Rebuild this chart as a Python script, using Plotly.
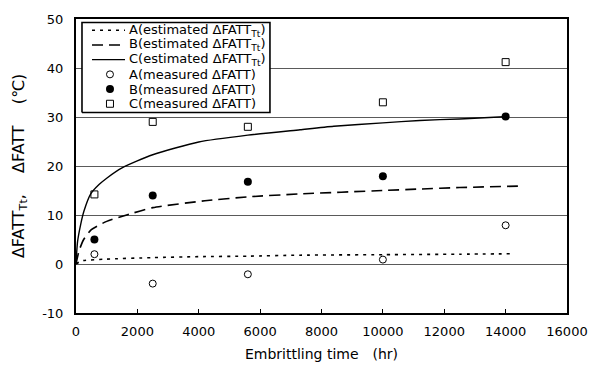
import plotly.graph_objects as go

# Measured data (embrittling time, hr)
meas_t = [600, 2500, 5600, 10000, 14000]
meas_A = [2.0, -4.0, -2.1, 0.9, 7.9]
meas_B = [5.0, 14.0, 16.8, 17.9, 30.1]
meas_C = [14.2, 29.0, 28.0, 33.0, 41.2]

# Estimated curves
est_A_t = [0, 100, 250, 1000, 2500, 4000, 5600, 7300, 10000, 12500, 14300]
est_A = [0, 0.4, 0.7, 1.0, 1.3, 1.5, 1.6, 1.8, 1.9, 2.0, 2.1]
est_B_t = [0, 100, 250, 500, 1000, 1650, 2500, 4200, 5600, 7300, 10000, 11200, 12500, 14400]
est_B = [0, 2.7, 5.0, 7.0, 8.7, 10.0, 11.5, 12.9, 13.7, 14.3, 15.0, 15.3, 15.6, 15.9]
est_C_t = [0, 50, 150, 260, 480, 750, 1000, 1500, 2500, 4000, 5600, 7300, 8400, 10000, 11200, 12500, 14100]
est_C = [0, 4.5, 8.0, 10.8, 14.3, 16.2, 17.5, 19.6, 22.3, 24.9, 26.3, 27.4, 28.1, 28.8, 29.3, 29.6, 30.1]

x_ticks = [0, 2000, 4000, 6000, 8000, 10000, 12000, 14000, 16000]
y_ticks = [-10, 0, 10, 20, 30, 40, 50]

legend_labels = ["A(estimated ΔFATT<sub>Tt</sub>)", "B(estimated ΔFATT<sub>Tt</sub>)",
                 "C(estimated ΔFATT<sub>Tt</sub>)", "A(measured ΔFATT)",
                 "B(measured ΔFATT)", "C(measured ΔFATT)"]

FONT = "DejaVu Sans, Liberation Sans, sans-serif"

# styles
line_styles = [dict(color="black", width=1.6, dash="3px,5px"),
               dict(color="black", width=1.6, dash="11px,6px"),
               dict(color="black", width=1.4)]
marker_styles = [dict(symbol="circle-open", size=7, color="black", line=dict(width=1, color="black")),
                 dict(symbol="circle", size=8, color="black"),
                 dict(symbol="square-open", size=7, color="black", line=dict(width=1, color="black"))]

# legend layout (fractions of the plotting area)
LEG_BOX_X = [0.0122, 0.395, 0.395, 0.0122, 0.0122]
LEG_BOX_Y = [0.682, 0.682, 0.988, 0.988, 0.682]
LEG_ROW_Y = [0.9617, 0.9117, 0.8617, 0.8117, 0.7617, 0.7117]
LEG_LINE_X = [0.0326, 0.0998]
LEG_MARK_X = 0.0692
LEG_TEXT_X = 0.1039

fig = go.Figure()
for t, v, ls in zip([est_A_t, est_B_t, est_C_t], [est_A, est_B, est_C], line_styles):
    fig.add_trace(go.Scatter(x=t, y=v, mode="lines", showlegend=False,
                             line=dict(**ls, shape="spline", smoothing=0.6)))
for v, ms in zip([meas_A, meas_B, meas_C], marker_styles):
    fig.add_trace(go.Scatter(x=meas_t, y=v, mode="markers", showlegend=False, marker=ms))

# legend box + samples on an auxiliary overlay axis spanning the plot area in [0,1]
fig.add_trace(go.Scatter(x=LEG_BOX_X, y=LEG_BOX_Y, mode="lines", fill="toself",
                         fillcolor="white", line=dict(color="black", width=1.6),
                         xaxis="x2", yaxis="y2", showlegend=False, hoverinfo="skip"))
for i, ls in enumerate(line_styles):
    fig.add_trace(go.Scatter(x=LEG_LINE_X, y=[LEG_ROW_Y[i]] * 2, mode="lines", line=ls,
                             xaxis="x2", yaxis="y2", showlegend=False, hoverinfo="skip"))
for i, ms in enumerate(marker_styles):
    fig.add_trace(go.Scatter(x=[LEG_MARK_X], y=[LEG_ROW_Y[3 + i]], mode="markers", marker=ms,
                             xaxis="x2", yaxis="y2", showlegend=False, hoverinfo="skip"))

annotations = [dict(x=LEG_TEXT_X, y=LEG_ROW_Y[i], xref="paper", yref="paper", text=lab,
                    showarrow=False, xanchor="left", yanchor="middle",
                    font=dict(size=13, family=FONT, color="black"))
               for i, lab in enumerate(legend_labels)]

fig.update_layout(
    width=600, height=374,
    margin=dict(l=76, r=33, t=13, b=61),
    paper_bgcolor="white", plot_bgcolor="white",
    font=dict(family=FONT, size=13, color="black"),
    showlegend=False,
    annotations=annotations,
    xaxis=dict(range=[0, 16000], tickvals=x_ticks, ticktext=[str(v) for v in x_ticks],
               showgrid=False, zeroline=False, showline=True, linecolor="black", linewidth=2,
               mirror=True, ticks="inside", ticklen=4, tickcolor="black",
               tickfont=dict(size=13), ticklabelstandoff=5,
               title=dict(text="Embrittling time　(hr)", font=dict(size=14), standoff=12)),
    yaxis=dict(range=[-10, 50], tickvals=y_ticks, ticktext=[str(v) for v in y_ticks],
               showgrid=True, gridcolor="#5a5a5a", gridwidth=1, zeroline=False,
               showline=True, linecolor="black", linewidth=2, mirror=True, ticks="",
               tickfont=dict(size=13), ticklabelstandoff=8,
               title=dict(text="ΔFATT<sub>Tt</sub>,　 ΔFATT　 (℃)", font=dict(size=16), standoff=14)),
    xaxis2=dict(range=[0, 1], overlaying="x", visible=False, fixedrange=True),
    yaxis2=dict(range=[0, 1], overlaying="y", visible=False, fixedrange=True),
)

fig.write_html("out.html")
